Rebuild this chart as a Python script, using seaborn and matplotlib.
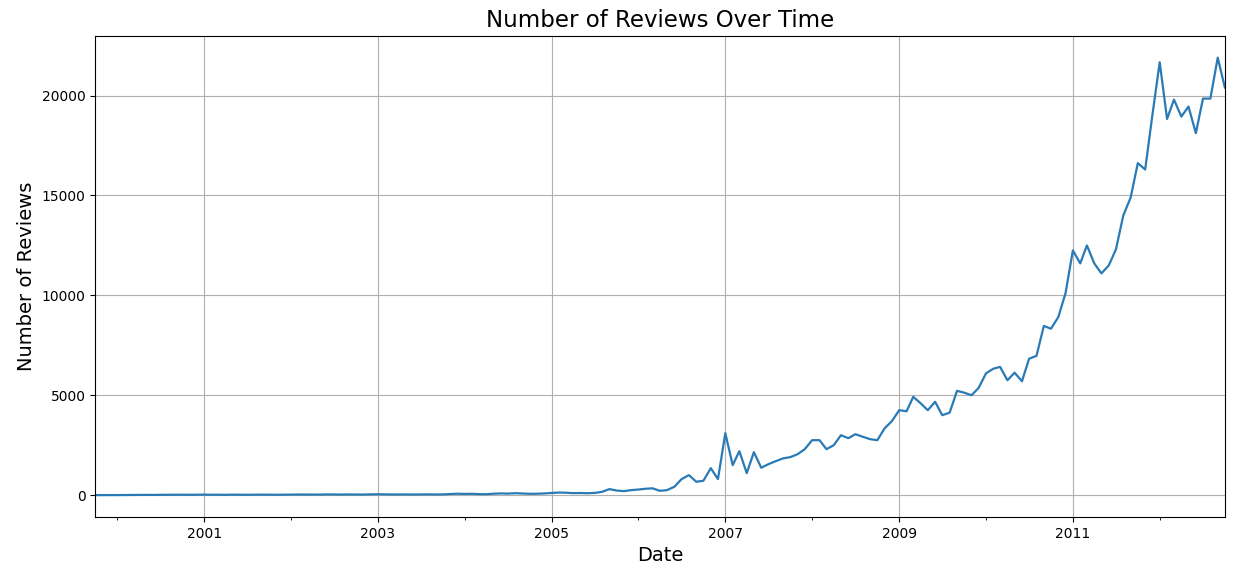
import numpy as np
import pandas as pd
import matplotlib
matplotlib.use('Agg')
import matplotlib.pyplot as plt
import seaborn as sns


# monthly review counts, Oct 1999 .. Oct 2012
first_month = '1999-10-01'
counts_1999_2000 = [1, 0, 3, 2, 5, 8, 10, 12, 9, 15, 14, 18, 20, 16, 22]
counts_2001 = [25, 18, 20, 15, 22, 19, 17, 21, 24, 20, 18, 23]
counts_2002 = [26, 30, 28, 24, 27, 35, 31, 29, 33, 30, 28, 38]
counts_2003 = [42, 36, 33, 31, 35, 30, 34, 38, 33, 36, 55, 70]
counts_2004 = [60, 65, 50, 45, 70, 85, 75, 95, 80, 65, 70, 85]
counts_2005 = [110, 130, 120, 100, 105, 95, 110, 165, 300, 230, 200, 250]
counts_2006 = [280, 320, 340, 215, 250, 420, 800, 1000, 670, 720, 1350, 800]
counts_2007 = [3100, 1500, 2200, 1100, 2150, 1370, 1550, 1700, 1840, 1900, 2050, 2300]
counts_2008 = [2750, 2750, 2300, 2500, 3000, 2850, 3050, 2920, 2800, 2750, 3350, 3700]
counts_2009 = [4250, 4200, 4920, 4600, 4250, 4670, 4000, 4130, 5220, 5130, 5000, 5370]
counts_2010 = [6100, 6330, 6420, 5750, 6130, 5700, 6830, 6970, 8470, 8330, 8920, 10100]
counts_2011 = [12250, 11600, 12500, 11600, 11100, 11500, 12300, 14000, 14900, 16620, 16300, 19000]
counts_2012 = [21670, 18830, 19800, 18950, 19450, 18120, 19850, 19850, 21900, 20400]

label_years = [2001, 2003, 2005, 2007, 2009, 2011]
minor_years = [2000, 2002, 2004, 2006, 2008, 2010, 2012]

counts = (counts_1999_2000 + counts_2001 + counts_2002 + counts_2003 + counts_2004
          + counts_2005 + counts_2006 + counts_2007 + counts_2008 + counts_2009
          + counts_2010 + counts_2011 + counts_2012)
dates = pd.date_range(first_month, periods=len(counts), freq='MS')
df = pd.DataFrame({'Date': dates, 'Reviews': counts})

fig, ax = plt.subplots(figsize=(12.36, 5.77), dpi=100)
fig.subplots_adjust(left=0.077, right=0.991, top=0.938, bottom=0.104)

sns.lineplot(data=df, x='Date', y='Reviews', ax=ax, color='#2a7ab5', linewidth=1.6)

ax.set_xlim(dates[0], dates[-1])
ax.set_xticks([pd.Timestamp(f'{y}-01-01') for y in label_years])
ax.set_xticklabels([str(y) for y in label_years])
ax.set_xticks([pd.Timestamp(f'{y}-01-01') for y in minor_years], minor=True)

ax.set_title('Number of Reviews Over Time', fontsize=16.5)
ax.set_xlabel('Date', fontsize=14)
ax.set_ylabel('Number of Reviews', fontsize=14)
ax.grid(True)

plt.savefig('out.png', dpi=100)
